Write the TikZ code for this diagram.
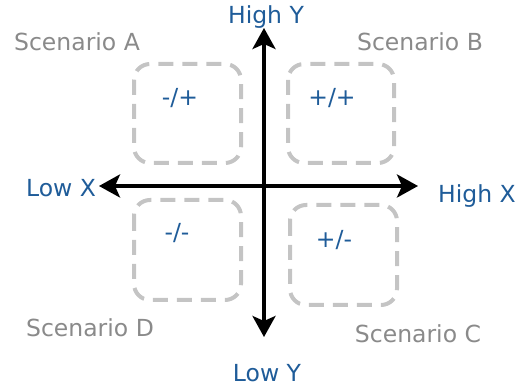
\documentclass[tikz,border=0pt]{standalone}
\usepackage{fontspec}
\setmainfont{DejaVu Sans}
\usetikzlibrary{arrows.meta}
\definecolor{lblblue}{HTML}{1F5C99}
\definecolor{lblgray}{HTML}{8A8A8A}
\definecolor{boxgray}{HTML}{C4C4C4}
\begin{document}
\begin{tikzpicture}[x=1pt,y=-1pt,
  axis/.style={line width=3.5pt,-{Stealth[length=21pt,width=23pt,inset=5pt]}},
  quad/.style={draw=boxgray,line width=4pt,rounded corners=16pt,dash pattern=on 15pt off 9pt},
  axlabel/.style={text=lblblue,font=\fontsize{23.5}{28}\selectfont,inner sep=0pt},
  scen/.style={text=lblgray,font=\fontsize{23.5}{28}\selectfont,inner sep=0pt},
  sign/.style={text=lblblue,font=\fontsize{23.5}{28}\selectfont,inner sep=0pt}]
\useasboundingbox (0,0) rectangle (523,387);
\coordinate (xl) at (99,186);
\coordinate (xr) at (418,186);
\coordinate (yt) at (264,28);
\coordinate (yb) at (264,337);
\draw[quad] (134,64) rectangle (241,163);
\draw[quad] (288,64) rectangle (394,163);
\draw[quad] (134,200) rectangle (241,300);
\draw[quad] (290,205) rectangle (397,305);
\draw[axis] (264,186) -- (xl);
\draw[axis] (264,186) -- (xr);
\draw[axis] (264,186) -- (yt);
\draw[axis] (264,186) -- (yb);
\node[sign] (s1) at (180,98) {-/+};
\node[sign] (s2) at (332,98) {+/+};
\node[sign] (s3) at (177,233) {-/-};
\node[sign] (s4) at (334,240) {+/-};
\node[scen] (sa) at (77,42) {Scenario A};
\node[scen] (sb) at (420,42) {Scenario B};
\node[scen] (sd) at (90,328) {Scenario D};
\node[scen] (sc) at (418,334) {Scenario C};
\node[axlabel] (hy) at (266,17) {High Y};
\node[axlabel] (ly) at (267,373) {Low Y};
\node[axlabel] (lx) at (61,188) {Low X};
\node[axlabel] (hx) at (477,196) {High X};
\end{tikzpicture}
\end{document}
